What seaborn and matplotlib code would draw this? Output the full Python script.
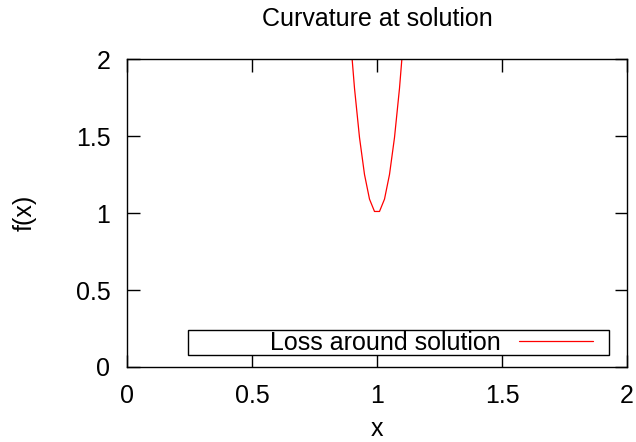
import pandas as pd
import seaborn as sns
import matplotlib.pyplot as plt
from matplotlib.patches import Rectangle

# Sampled loss curve around the solution
x_vals = [0.89, 0.91, 0.93, 0.95, 0.97, 0.99, 1.01, 1.03, 1.05, 1.07, 1.09, 1.11]
f_vals = [2.21, 1.81, 1.49, 1.25, 1.09, 1.01, 1.01, 1.09, 1.25, 1.49, 1.81, 2.21]
x_ticks = [0, 0.5, 1, 1.5, 2]
y_ticks = [0, 0.5, 1, 1.5, 2]
tick_labels = ["0", "0.5", "1", "1.5", "2"]

df = pd.DataFrame({"x": x_vals, "f": f_vals})

sns.set_theme(style="ticks")
plt.rcParams['font.family'] = ['Liberation Sans', 'DejaVu Sans']
plt.rcParams['text.color'] = 'black'
plt.rcParams['axes.labelcolor'] = 'black'

fig = plt.figure(figsize=(6.36, 4.42), dpi=100)
ax = fig.add_axes([127 / 636, 1 - 367 / 442, 500 / 636, 308 / 442])

sns.lineplot(data=df, x="x", y="f", color="red", linewidth=0.9,
             label="Loss around solution", ax=ax, sort=False)

ax.set_xlim(0, 2)
ax.set_ylim(0, 2)
ax.set_xticks(x_ticks)
ax.set_yticks(y_ticks)
ax.set_xticklabels(tick_labels)
ax.set_yticklabels(tick_labels)
ax.tick_params(direction="in", length=9, width=1, top=True, right=True,
               labelsize=18, pad=12, colors="black")
for sp in ax.spines.values():
    sp.set_visible(True)
    sp.set_color("black")
    sp.set_linewidth(1)

ax.set_title("Curvature at solution", fontsize=18, pad=24)
ax.set_xlabel("x", fontsize=18, labelpad=7)
ax.set_ylabel("f(x)", fontsize=18, labelpad=28)

# gnuplot-style key: wide box, text then line sample on the right
ax.add_patch(Rectangle((61 / 500, 12 / 308), 421 / 500, 25 / 308,
                       transform=ax.transAxes, fill=False, edgecolor="black",
                       linewidth=1, zorder=3))
leg = ax.legend(loc="center right", bbox_to_anchor=(0.932, 0.0795),
                markerfirst=False, fontsize=18, frameon=False,
                borderpad=0, handlelength=2.96, handletextpad=0.72,
                borderaxespad=0)

fig.savefig("out.png", dpi=100)
